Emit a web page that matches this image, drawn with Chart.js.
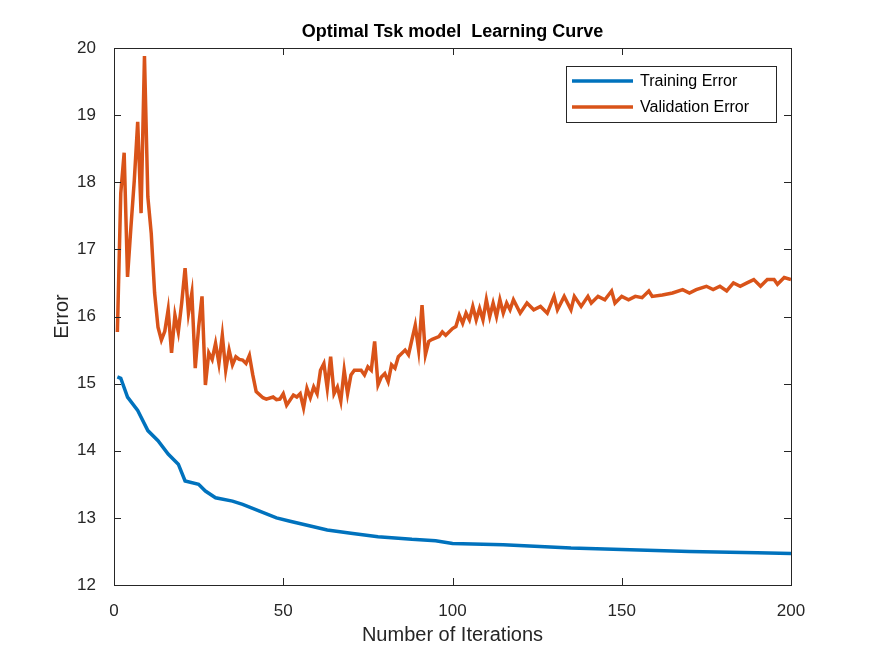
<!DOCTYPE html>
<html>
<head>
<meta charset="utf-8">
<script src="https://cdn.jsdelivr.net/npm/chart.js@4"></script>
<style>
  body { margin: 0; background: #fff; }
  #wrap { width: 875px; height: 656px; }
</style>
</head>
<body>
<div id="wrap"><canvas id="myChart"></canvas></div>
<script>
var chartTitle = "Optimal Tsk model  Learning Curve";
var xLabel = "Number of Iterations";
var yLabel = "Error";
var seriesNames = ["Training Error", "Validation Error"];
var xTicks = [0, 50, 100, 150, 200];
var yTicks = [12, 13, 14, 15, 16, 17, 18, 19, 20];

// training error, read at vertices [iteration, value]
var trainIter = [1, 2, 4, 7, 10, 13, 16, 19, 21, 25, 27, 30, 35, 38, 43, 48, 52, 58, 63, 70, 78, 88, 95, 100, 115, 135, 150, 170, 190, 200];
var trainErr = [15.1, 15.08, 14.8, 14.6, 14.3, 14.15, 13.95, 13.8, 13.55, 13.5, 13.4, 13.3, 13.25, 13.2, 13.1, 13.0, 12.95, 12.88, 12.82, 12.77, 12.72, 12.68, 12.66, 12.62, 12.6, 12.55, 12.53, 12.5, 12.48, 12.47];

var valIter = [1, 2, 3, 4, 5, 6, 7, 8, 9, 10, 11, 12, 13, 14, 15, 16, 17, 18, 19, 20,
  21, 22, 23, 24, 25, 26, 27, 28, 29, 30, 31, 32, 33, 34, 35, 36, 37, 38, 39, 40,
  41, 42, 44, 45, 47, 48, 49, 50, 51, 53, 54, 55, 56, 57, 58, 59, 60, 61, 62, 63,
  64, 65, 66, 67, 68, 69, 70, 71, 73, 74, 75, 76, 77, 78, 79, 80, 81, 82, 83, 84,
  86, 87, 89, 90, 91, 92, 93, 94, 96, 97, 98, 100, 101, 102, 103, 104, 105, 106, 107, 108,
  109, 110, 111, 112, 113, 114, 115, 116, 117, 118, 120, 122, 124, 126, 128, 130, 131, 133, 135, 136,
  138, 140, 141, 143, 145, 147, 148, 150, 152, 154, 156, 158, 159, 162, 165, 168, 170, 172, 175, 177,
  179, 181, 183, 185, 187, 189, 191, 193, 195, 196, 198, 200];
var valErr = [15.77, 17.84, 18.44, 16.59, 17.33, 18.03, 18.9, 17.54, 19.88, 17.78, 17.24, 16.35, 15.84, 15.65, 15.78, 16.1, 15.46, 16.02, 15.77, 16.2,
  16.72, 16.05, 16.35, 15.23, 15.84, 16.3, 14.98, 15.46, 15.36, 15.6, 15.3, 15.72, 15.2, 15.5, 15.28, 15.4, 15.36, 15.35, 15.3, 15.42,
  15.13, 14.88, 14.79, 14.77, 14.8, 14.76, 14.77, 14.85, 14.68, 14.83, 14.8, 14.85, 14.64, 14.93, 14.79, 14.95, 14.85, 15.2, 15.3, 14.93,
  15.4, 14.85, 14.95, 14.74, 15.2, 14.85, 15.13, 15.2, 15.2, 15.13, 15.25, 15.2, 15.63, 14.98, 15.1, 15.15, 15.03, 15.28, 15.23, 15.4,
  15.5, 15.43, 15.87, 15.5, 16.17, 15.43, 15.63, 15.66, 15.7, 15.77, 15.72, 15.82, 15.85, 16.02, 15.9, 16.05, 15.95, 16.15, 15.95, 16.12,
  15.95, 16.25, 16.0, 16.2, 16.0, 16.25, 16.05, 16.2, 16.1, 16.25, 16.05, 16.2, 16.1, 16.15, 16.05, 16.3, 16.1, 16.3, 16.1, 16.3,
  16.15, 16.3, 16.2, 16.3, 16.25, 16.38, 16.2, 16.3, 16.25, 16.3, 16.28, 16.38, 16.3, 16.32, 16.35, 16.4, 16.35, 16.4, 16.45, 16.4,
  16.45, 16.38, 16.5, 16.45, 16.5, 16.55, 16.45, 16.55, 16.55, 16.48, 16.58, 16.55];

function toPoints(xs, ys) {
    var pts = [];
    for (var i = 0; i < xs.length; i++) pts.push({x: xs[i], y: ys[i]});
    return pts;
}

var fontFam = "'Liberation Sans', Arial, sans-serif";
var axisColor = "#262626";

// MATLAB-like box, inward ticks, titles and legend
var matlabAxes = {
    id: "matlabAxes",
    afterDraw: function(chart) {
        var ctx = chart.ctx;
        var a = chart.chartArea;
        var xs = chart.scales.x, ys = chart.scales.y;
        ctx.save();
        ctx.strokeStyle = axisColor;
        ctx.lineWidth = 1;
        ctx.strokeRect(a.left + 0.5, a.top + 0.5, a.right - a.left, a.bottom - a.top);
        xTicks.forEach(function(t) {
            var p = Math.round(xs.getPixelForValue(t)) + 0.5;
            ctx.beginPath(); ctx.moveTo(p, a.bottom); ctx.lineTo(p, a.bottom - 7); ctx.stroke();
            ctx.beginPath(); ctx.moveTo(p, a.top); ctx.lineTo(p, a.top + 7); ctx.stroke();
        });
        yTicks.forEach(function(t) {
            var p = Math.round(ys.getPixelForValue(t)) + 0.5;
            ctx.beginPath(); ctx.moveTo(a.left, p); ctx.lineTo(a.left + 7, p); ctx.stroke();
            ctx.beginPath(); ctx.moveTo(a.right, p); ctx.lineTo(a.right - 7, p); ctx.stroke();
        });
        ctx.fillStyle = "#000";
        ctx.textAlign = "center";
        ctx.textBaseline = "middle";
        ctx.font = "bold 18px " + fontFam;
        ctx.fillText(chartTitle, (a.left + a.right) / 2, 32);
        ctx.fillStyle = axisColor;
        ctx.font = "20px " + fontFam;
        ctx.fillText(xLabel, (a.left + a.right) / 2, 635);
        ctx.save();
        ctx.translate(62, (a.top + a.bottom) / 2);
        ctx.rotate(-Math.PI / 2);
        ctx.fillText(yLabel, 0, 0);
        ctx.restore();

        // legend
        var lx = 566, ly = 66, lw = 210, lh = 56;
        ctx.fillStyle = "#fff";
        ctx.fillRect(lx, ly, lw, lh);
        ctx.strokeRect(lx + 0.5, ly + 0.5, lw, lh);
        ctx.textAlign = "left";
        ctx.font = "16px " + fontFam;
        chart.data.datasets.forEach(function(ds, i) {
            var yy = ly + 15 + i * 26;
            ctx.strokeStyle = ds.borderColor;
            ctx.lineWidth = 3.5;
            ctx.beginPath(); ctx.moveTo(lx + 6, yy); ctx.lineTo(lx + 67, yy); ctx.stroke();
            ctx.fillStyle = "#000";
            ctx.fillText(ds.label, lx + 74, yy + 1);
        });
        ctx.restore();
    }
};

new Chart("myChart", {
    type: "line",
    data: {
        datasets: [{
            label: seriesNames[0],
            data: toPoints(trainIter, trainErr),
            borderColor: "#0072BD",
            borderWidth: 3.5,
            pointRadius: 0,
            tension: 0,
            fill: false
        }, {
            label: seriesNames[1],
            data: toPoints(valIter, valErr),
            borderColor: "#D95319",
            borderWidth: 3.5,
            pointRadius: 0,
            tension: 0,
            fill: false
        }]
    },
    options: {
        responsive: true,
        maintainAspectRatio: false,
        animation: false,
        layout: { padding: { top: 48, right: 84, left: 0, bottom: 0 } },
        plugins: { legend: { display: false }, title: { display: false }, tooltip: { enabled: false } },
        scales: {
            x: {
                type: "linear", min: 0, max: 200,
                afterFit: function(s) { s.height = 71; },
                afterBuildTicks: function(s) { s.ticks = xTicks.map(function(v) { return {value: v}; }); },
                grid: { display: false },
                border: { display: false },
                ticks: { padding: 8, color: axisColor, font: { family: fontFam, size: 17 } }
            },
            y: {
                type: "linear", min: 12, max: 20,
                afterFit: function(s) { s.width = 114; },
                afterBuildTicks: function(s) { s.ticks = yTicks.map(function(v) { return {value: v}; }); },
                grid: { display: false },
                border: { display: false },
                ticks: { padding: 10, color: axisColor, font: { family: fontFam, size: 17 } }
            }
        }
    },
    plugins: [matlabAxes]
});
</script>
</body>
</html>
